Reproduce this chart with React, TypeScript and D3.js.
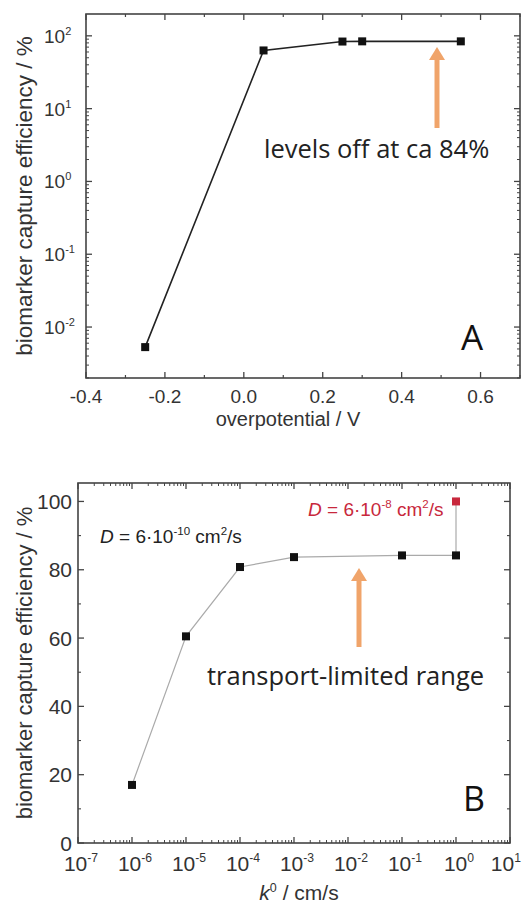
import React from "react";
import * as d3 from "d3";

// ---------- Data: panel A ----------
const potentialA = [-0.25, 0.05, 0.25, 0.3, 0.55];
const efficiencyA = [0.0053, 63, 83.5, 84, 84];
const xTicksA = [-0.4, -0.2, 0.0, 0.2, 0.4, 0.6];
const xMinorTicksA = [-0.3, -0.1, 0.1, 0.3, 0.5, 0.7];
const yExpA = [-2, -1, 0, 1, 2];

// ---------- Data: panel B ----------
const rateB = [1e-6, 1e-5, 1e-4, 1e-3, 1e-1, 1e0];
const efficiencyB = [17, 60.5, 80.8, 83.7, 84.2, 84.2];
const rateHighD = [1e0];
const efficiencyHighD = [100];
const xExpB = [-7, -6, -5, -4, -3, -2, -1, 0, 1];
const yTicksB = [0, 20, 40, 60, 80, 100];
const yMinorTicksB = [10, 30, 50, 70, 90];

const AX = "#444";
const TXT = "#333";
const ORANGE = "#F0A46A";
const RED = "#C8283C";
const FONT = "'Liberation Sans', Arial, sans-serif";
const AFONT = "'Open Sans', sans-serif";

function Arrow({ x, yTip, yTail }: { x: number; yTip: number; yTail: number }) {
  const hl = 13, hw = 8;
  return (
    <g>
      <line x1={x} x2={x} y1={yTail} y2={yTip + hl - 1} stroke={ORANGE} strokeWidth={5} />
      <path d={`M${x},${yTip} L${x - hw},${yTip + hl} L${x + hw},${yTip + hl} Z`} fill={ORANGE} />
    </g>
  );
}

function Pow({ x, y, exp, anchor = "middle", size = 19 }: any) {
  return (
    <text x={x} y={y} textAnchor={anchor} fontFamily={FONT} fontSize={size} fill={TXT}>
      10
      <tspan dy={-size * 0.42} fontSize={size * 0.58}>{exp < 0 ? "-" + Math.abs(exp) : String(exp)}</tspan>
    </text>
  );
}

function PanelA() {
  const L = 86, R = 520, T = 14, B = 378;
  const x = d3.scaleLinear().domain([-0.4, 0.7]).range([L, R]);
  const y = d3.scaleLog().domain([Math.pow(10, -2.7), Math.pow(10, 2.3)]).range([B, T]);
  const pts = potentialA.map((p, i) => [x(p), y(efficiencyA[i])] as [number, number]);
  const line = d3.line()(pts) as string;
  const minorY: number[] = [];
  for (let e = -3; e <= 2; e++) for (let m = 2; m <= 9; m++) {
    const v = m * Math.pow(10, e);
    if (v > y.domain()[0] && v < y.domain()[1]) minorY.push(v);
  }
  return (
    <g>
      {xTicksA.map((t) => (
        <g key={"xa" + t}>
          <line x1={x(t)} x2={x(t)} y1={B} y2={B - 6} stroke={AX} strokeWidth={1.3} />
          <line x1={x(t)} x2={x(t)} y1={T} y2={T + 6} stroke={AX} strokeWidth={1.3} />
          <text x={x(t)} y={B + 25} textAnchor="middle" fontFamily={FONT} fontSize={19} fill={TXT}>
            {t.toFixed(1)}
          </text>
        </g>
      ))}
      {xMinorTicksA.map((t) => (
        <g key={"xma" + t}>
          <line x1={x(t)} x2={x(t)} y1={B} y2={B - 3} stroke={AX} strokeWidth={1.2} />
          <line x1={x(t)} x2={x(t)} y1={T} y2={T + 3} stroke={AX} strokeWidth={1.2} />
        </g>
      ))}
      {yExpA.map((e) => (
        <g key={"ya" + e}>
          <line x1={L} x2={L + 6} y1={y(Math.pow(10, e))} y2={y(Math.pow(10, e))} stroke={AX} strokeWidth={1.3} />
          <line x1={R} x2={R - 6} y1={y(Math.pow(10, e))} y2={y(Math.pow(10, e))} stroke={AX} strokeWidth={1.3} />
          <Pow x={44} y={y(Math.pow(10, e)) + 7} exp={e} anchor="start" size={19} />
        </g>
      ))}
      {minorY.map((v, i) => (
        <g key={"yma" + i}>
          <line x1={L} x2={L + 3} y1={y(v)} y2={y(v)} stroke={AX} strokeWidth={1} />
          <line x1={R} x2={R - 3} y1={y(v)} y2={y(v)} stroke={AX} strokeWidth={1} />
        </g>
      ))}
      <rect x={L} y={T} width={R - L} height={B - T} fill="none" stroke={AX} strokeWidth={1.6} />
      <path d={line} fill="none" stroke="#222" strokeWidth={1.6} />
      {pts.map((p, i) => (
        <rect key={"pa" + i} x={p[0] - 4} y={p[1] - 4} width={8} height={8} fill="#111" />
      ))}
      <Arrow x={437} yTip={47} yTail={128} />
      <text x={264} y={158} fontFamily={AFONT} fontSize={25.5} fill="#222">levels off at ca 84%</text>
      <text x={461} y={350} fontFamily={AFONT} fontSize={35} fill="#111">A</text>
      <text x={288} y={426} textAnchor="middle" fontFamily={FONT} fontSize={20} fill={TXT}>
        overpotential / V
      </text>
      <text
        transform={`translate(32,${(T + B) / 2}) rotate(-90)`}
        textAnchor="middle"
        fontFamily={FONT}
        fontSize={22.5}
        fill={TXT}
      >
        biomarker capture efficiency / %
      </text>
    </g>
  );
}

function PanelB() {
  const L = 78, R = 510, T = 483, B = 843;
  const x = d3.scaleLog().domain([1e-7, 1e1]).range([L, R]);
  const y = d3.scaleLinear().domain([0, 105.4]).range([B, T]);
  const pts = rateB.map((r, i) => [x(r), y(efficiencyB[i])] as [number, number]);
  const hi = rateHighD.map((r, i) => [x(r), y(efficiencyHighD[i])] as [number, number]);
  const line = d3.line()(pts) as string;
  const vline = d3.line()([pts[pts.length - 1], hi[0]]) as string;
  const minorX: number[] = [];
  for (let e = -7; e < 1; e++) for (let m = 2; m <= 9; m++) minorX.push(m * Math.pow(10, e));
  return (
    <g>
      {xExpB.map((e, i) => {
        const last = i === xExpB.length - 1;
        return (
          <g key={"xb" + e}>
            <line x1={x(Math.pow(10, e))} x2={x(Math.pow(10, e))} y1={B} y2={B - 6} stroke={AX} strokeWidth={1.3} />
            <line x1={x(Math.pow(10, e))} x2={x(Math.pow(10, e))} y1={T} y2={T + 6} stroke={AX} strokeWidth={1.3} />
            <Pow
              x={last ? 521 : x(Math.pow(10, e)) + 3}
              y={B + 28}
              exp={e}
              anchor={last ? "end" : "middle"}
              size={21}
            />
          </g>
        );
      })}
      {minorX.map((v, i) => (
        <g key={"xmb" + i}>
          <line x1={x(v)} x2={x(v)} y1={B} y2={B - 3} stroke={AX} strokeWidth={1} />
          <line x1={x(v)} x2={x(v)} y1={T} y2={T + 3} stroke={AX} strokeWidth={1} />
        </g>
      ))}
      {yTicksB.map((t) => (
        <g key={"yb" + t}>
          <line x1={L} x2={L + 6} y1={y(t)} y2={y(t)} stroke={AX} strokeWidth={1.3} />
          <line x1={R} x2={R - 6} y1={y(t)} y2={y(t)} stroke={AX} strokeWidth={1.3} />
          <text x={72} y={y(t) + 7.5} textAnchor="end" fontFamily={FONT} fontSize={21} fill={TXT}>
            {t}
          </text>
        </g>
      ))}
      {yMinorTicksB.map((t) => (
        <g key={"ymb" + t}>
          <line x1={L} x2={L + 3} y1={y(t)} y2={y(t)} stroke={AX} strokeWidth={1.1} />
          <line x1={R} x2={R - 3} y1={y(t)} y2={y(t)} stroke={AX} strokeWidth={1.1} />
        </g>
      ))}
      <rect x={L} y={T} width={R - L} height={B - T} fill="none" stroke={AX} strokeWidth={1.6} />
      <path d={line} fill="none" stroke="#aaa" strokeWidth={1.2} />
      <path d={vline} fill="none" stroke="#aaa" strokeWidth={1.2} />
      {pts.map((p, i) => (
        <rect key={"pb" + i} x={p[0] - 4} y={p[1] - 4} width={8} height={8} fill="#111" />
      ))}
      {hi.map((p, i) => (
        <rect key={"hb" + i} x={p[0] - 4} y={p[1] - 4} width={8} height={8} fill={RED} />
      ))}
      <text x={100} y={543} fontFamily={FONT} fontSize={19} fill="#222">
        <tspan fontStyle="italic">D</tspan> = 6·10
        <tspan dy={-8} fontSize={11.5}>-10</tspan>
        <tspan dy={8}> cm</tspan>
        <tspan dy={-8} fontSize={11.5}>2</tspan>
        <tspan dy={8}>/s</tspan>
      </text>
      <text x={308} y={516} fontFamily={FONT} fontSize={19} fill={RED}>
        <tspan fontStyle="italic">D</tspan> = 6·10
        <tspan dy={-8} fontSize={11.5}>-8</tspan>
        <tspan dy={8}> cm</tspan>
        <tspan dy={-8} fontSize={11.5}>2</tspan>
        <tspan dy={8}>/s</tspan>
      </text>
      <Arrow x={359} yTip={568} yTail={647} />
      <text x={207} y={685} fontFamily={AFONT} fontSize={25.5} fill="#222">transport-limited range</text>
      <text x={463} y={811} fontFamily={AFONT} fontSize={34} fill="#111">B</text>
      <text x={(L + R) / 2 + 5} y={900} textAnchor="middle" fontFamily={FONT} fontSize={21} fill={TXT}>
        <tspan fontStyle="italic">k</tspan>
        <tspan dy={-8} fontSize={12.5}>0</tspan>
        <tspan dy={8}> / cm/s</tspan>
      </text>
      <text
        transform={`translate(32,${(T + B) / 2}) rotate(-90)`}
        textAnchor="middle"
        fontFamily={FONT}
        fontSize={22}
        fill={TXT}
      >
        biomarker capture efficiency / %
      </text>
    </g>
  );
}

export default function App() {
  return (
    <svg
      width={522}
      height={903}
      viewBox="0 0 522 903"
      style={{ position: "absolute", left: 0, top: 0, background: "#fff" }}
    >
      <rect x={0} y={0} width={522} height={903} fill="#fff" />
      <PanelA />
      <PanelB />
    </svg>
  );
}
